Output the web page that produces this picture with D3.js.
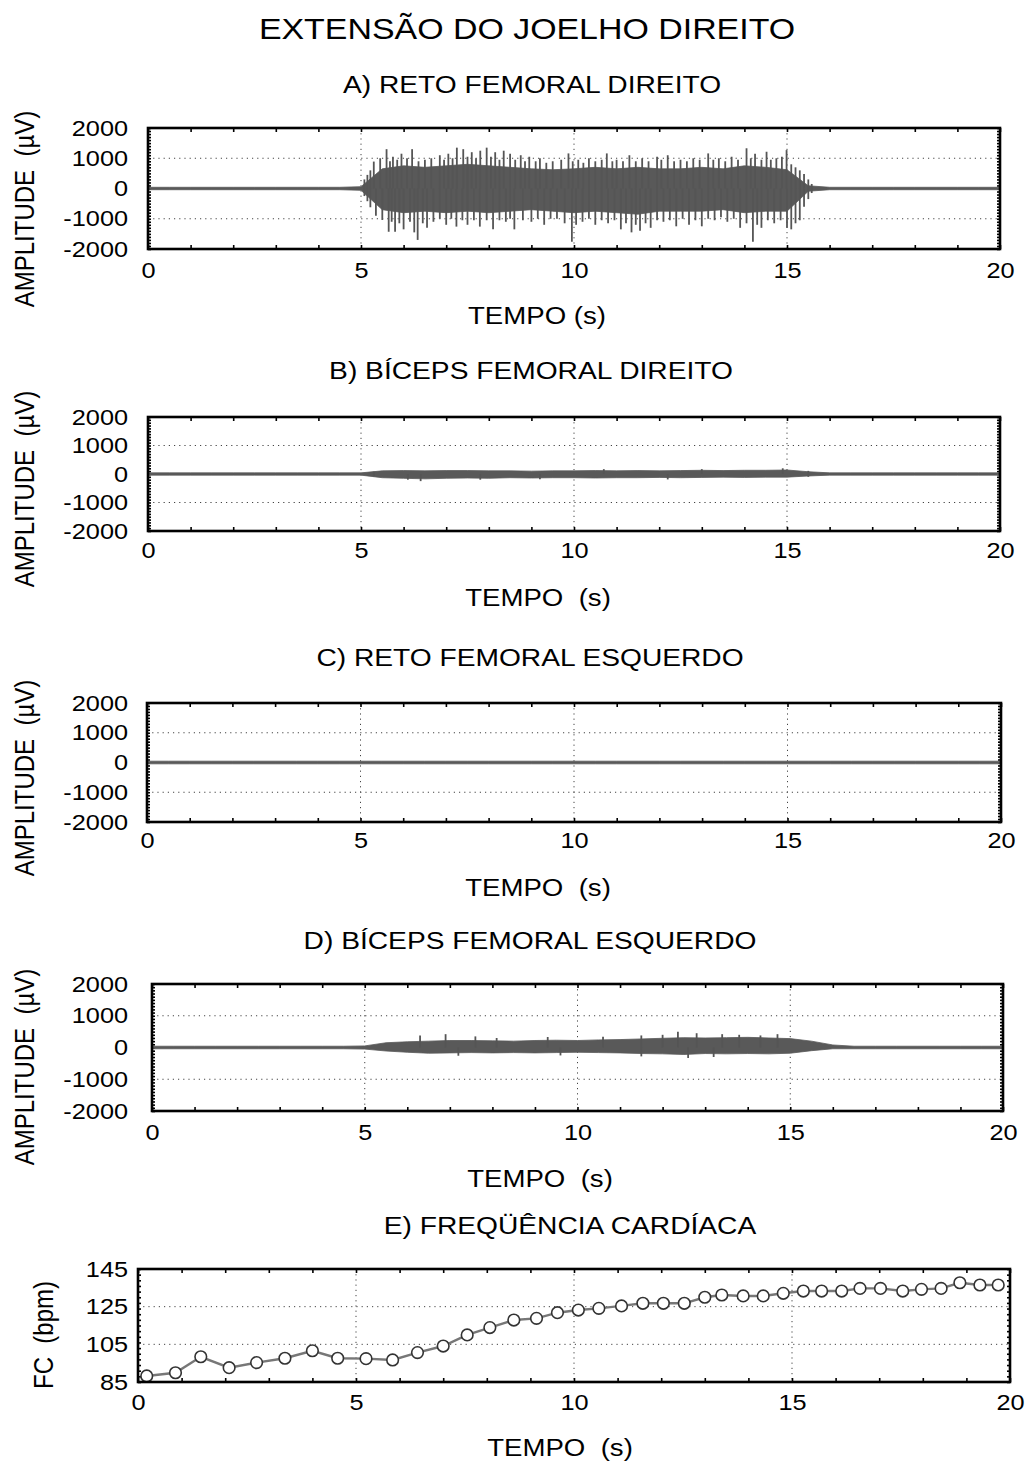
<!DOCTYPE html>
<html>
<head>
<meta charset="utf-8">
<script src="https://cdn.jsdelivr.net/npm/d3@7"></script>
<style>
  body { margin: 0; background: #fff; }
  text { font-family: "Liberation Sans", Arial, sans-serif; fill: #000; white-space: pre; }
</style>
</head>
<body>
<svg id="chart" width="1027" height="1462"></svg>
<script>

// Data
const timeTicks = [0, 5, 10, 15, 20];
const ampTicks = [2000, 1000, 0, -1000, -2000];
const fcTicks = [85, 105, 125, 145];

// envelope of the EMG band, read every 0.5 s
const coreTime = [0, 0.5, 1, 1.5, 2, 2.5, 3, 3.5, 4, 4.5, 5, 5.5, 6, 6.5, 7, 7.5, 8, 8.5, 9, 9.5,
  10, 10.5, 11, 11.5, 12, 12.5, 13, 13.5, 14, 14.5, 15, 15.5, 16, 16.5, 17, 17.5, 18, 18.5, 19, 19.5, 20];

const coreHiA = [40, 40, 40, 40, 40, 40, 40, 40, 40, 40, 60, 650, 750, 700, 750, 800, 750, 700, 650, 620,
  650, 700, 650, 700, 650, 650, 700, 650, 750, 700, 620, 90, 40, 40, 40, 40, 40, 40, 40, 40, 40];
const coreLoA = [-40, -40, -40, -40, -40, -40, -40, -40, -40, -40, -60, -700, -800, -750, -800, -750, -800, -750, -700, -750,
  -800, -750, -800, -850, -750, -750, -750, -700, -800, -750, -750, -90, -40, -40, -40, -40, -40, -40, -40, -40, -40];

const coreHiB = [40, 40, 40, 40, 40, 40, 40, 40, 40, 40, 40, 110, 120, 110, 120, 120, 110, 110, 100, 110,
  110, 120, 110, 120, 110, 120, 130, 120, 130, 130, 140, 80, 40, 40, 40, 40, 40, 40, 40, 40, 40];
const coreLoB = [-40, -40, -40, -40, -40, -40, -40, -40, -40, -40, -40, -130, -150, -170, -150, -140, -150, -130, -140, -130,
  -130, -140, -130, -130, -120, -130, -120, -110, -120, -110, -110, -70, -40, -40, -40, -40, -40, -40, -40, -40, -40];

const coreHiC = [45, 45, 45, 45, 45, 45, 45, 45, 45, 45, 45, 45, 45, 45, 45, 45, 45, 45, 45, 45,
  45, 45, 45, 45, 45, 45, 45, 45, 45, 45, 45, 45, 45, 45, 45, 45, 45, 45, 45, 45, 45];
const coreLoC = [-45, -45, -45, -45, -45, -45, -45, -45, -45, -45, -45, -45, -45, -45, -45, -45, -45, -45, -45, -45,
  -45, -45, -45, -45, -45, -45, -45, -45, -45, -45, -45, -45, -45, -45, -45, -45, -45, -45, -45, -45, -45];

const coreHiD = [40, 40, 40, 40, 40, 40, 40, 40, 40, 40, 50, 150, 180, 200, 220, 220, 210, 200, 220, 230,
  220, 240, 250, 270, 290, 310, 300, 310, 320, 300, 280, 200, 80, 40, 40, 40, 40, 40, 40, 40, 40];
const coreLoD = [-40, -40, -40, -40, -40, -40, -40, -40, -40, -40, -50, -110, -150, -180, -170, -160, -170, -160, -170, -160,
  -150, -160, -170, -190, -200, -220, -190, -200, -190, -200, -180, -100, -40, -40, -40, -40, -40, -40, -40, -40, -40];

// single peaks that stick out of the band: [time s, amplitude µV]
const spikesA = [
  [5.08, 300], [5.15, 450], [5.22, 600], [5.3, 890], [5.45, 1000], [5.6, 1300], [5.68, 900], [5.75, 1050], [5.85, 950],
  [5.95, 1150], [6.08, 1000], [6.2, 1300], [6.35, 900], [6.5, 950], [6.65, 1000], [6.85, 1100], [6.95, 950],
  [7.05, 1150], [7.15, 1000], [7.25, 1350], [7.4, 1300], [7.5, 1050], [7.6, 1200], [7.7, 1000], [7.8, 1250],
  [7.95, 1350], [8.05, 1050], [8.15, 1200], [8.25, 950], [8.35, 1250], [8.5, 1150], [8.62, 950], [8.75, 1100],
  [8.85, 900], [8.95, 1050], [9.1, 900], [9.2, 1000], [9.35, 850], [9.5, 900], [9.7, 950], [9.87, 1160],
  [9.97, 900], [10.1, 950], [10.22, 850], [10.35, 1000], [10.5, 900], [10.65, 950], [10.77, 1160], [10.9, 900],
  [11.0, 950], [11.15, 900], [11.3, 1100], [11.45, 900], [11.6, 1000], [11.75, 900], [11.95, 1050], [12.05, 950],
  [12.2, 1100], [12.35, 900], [12.5, 950], [12.65, 900], [12.8, 1000], [12.95, 950], [13.15, 1160], [13.27, 950],
  [13.4, 1000], [13.55, 900], [13.7, 1050], [13.85, 950], [14.05, 1330], [14.15, 1000], [14.25, 1150], [14.4, 950],
  [14.52, 1215], [14.62, 950], [14.75, 1000], [14.88, 1050], [14.99, 1270], [15.1, 800], [15.2, 700], [15.3, 600],
  [15.4, 480], [15.5, 300], [15.58, 150],
  [5.08, -250], [5.15, -420], [5.22, -620], [5.35, -900], [5.5, -1040], [5.65, -1430], [5.72, -1100], [5.8, -1430],
  [5.9, -1150], [6.0, -1350], [6.15, -1100], [6.25, -1450], [6.33, -1700], [6.45, -1150], [6.55, -1300], [6.7, -1100],
  [6.85, -1000], [7.0, -1200], [7.12, -1000], [7.24, -1260], [7.38, -1050], [7.5, -1200], [7.65, -1050], [7.79, -1260],
  [7.95, -1050], [8.1, -1350], [8.25, -1050], [8.4, -1100], [8.5, -1000], [8.6, -1350], [8.8, -1050], [9.0, -1100],
  [9.15, -1000], [9.3, -1200], [9.45, -1000], [9.6, -1000], [9.78, -1150], [9.95, -1760], [10.05, -1200], [10.2, -1100],
  [10.35, -1000], [10.5, -1200], [10.65, -1050], [10.8, -1150], [10.95, -1050], [11.1, -1350], [11.22, -1150],
  [11.35, -1450], [11.45, -1200], [11.55, -1400], [11.68, -1150], [11.8, -1300], [11.95, -1050], [12.1, -1100],
  [12.25, -1050], [12.4, -1250], [12.55, -1000], [12.7, -1200], [12.85, -1050], [13.0, -1250], [13.15, -1000],
  [13.3, -1050], [13.45, -950], [13.6, -1100], [13.75, -1000], [13.9, -1300], [14.05, -1150], [14.2, -1760],
  [14.3, -1200], [14.4, -1300], [14.55, -1050], [14.7, -1150], [14.85, -1050], [15.0, -1300], [15.1, -1350],
  [15.2, -1150], [15.3, -1050], [15.4, -600], [15.5, -350], [15.58, -150]
];
const spikesB = [[5.3, 80], [5.3, -90], [6.1, -200], [6.4, -250], [7.8, -200], [9.2, -180], [10.7, 170], [12.2, -190],
  [13.0, 170], [14.9, 200], [15.5, 110], [15.5, -100]];
const spikesC = [];
const spikesD = [
  [6.3, 380], [6.9, 420], [7.6, 350], [8.1, 300], [9.3, 330], [10.6, 340], [11.5, 380], [12.0, 400], [12.36, 500],
  [12.8, 450], [13.4, 420], [13.8, 400], [14.3, 380], [14.7, 420],
  [7.2, -260], [9.6, -250], [11.5, -280], [12.6, -330], [13.2, -300]
];

// heart rate
const fcTime = [0.2, 0.86, 1.44, 2.09, 2.72, 3.37, 4.0, 4.58, 5.23, 5.84, 6.41, 7.0, 7.55, 8.07, 8.62, 9.14, 9.62,
  10.1, 10.57, 11.09, 11.58, 12.05, 12.53, 13.0, 13.39, 13.88, 14.34, 14.8, 15.26, 15.68, 16.14, 16.56, 17.03,
  17.54, 17.97, 18.42, 18.85, 19.31, 19.73];
const fcBpm = [88.2, 89.9, 98.4, 92.6, 95.3, 97.6, 101.6, 97.6, 97.4, 96.7, 100.6, 104.1, 110, 113.9, 117.9, 118.8, 121.8,
  123.2, 124.1, 125.4, 126.8, 126.8, 126.8, 130, 131.2, 130.7, 130.7, 132.1, 133.3, 133.3, 133.3, 134.7, 134.7,
  133.3, 134.2, 134.7, 137.7, 136.5, 136.5];

// the scan is a little wider than tall, so text is stretched sideways
const SX = 1.15;
const svg = d3.select("#chart");

function label(x, y, s, size, rot) {
  svg.append("text")
    .attr("transform", `translate(${x},${y}) scale(${SX},1) rotate(${rot || 0})`)
    .attr("text-anchor", "middle")
    .style("font-size", size + "px")
    .text(s);
}

label(527, 39, "EXTENSÃO DO JOELHO DIREITO", 29.5);

const panels = [
  { title: "A) RETO FEMORAL DIREITO", tx: 532, ty: 93, L: 148, R: 1000, T: 128, B: 249, xPad: 13,
    hi: coreHiA, lo: coreLoA, spikes: spikesA, xlab: "TEMPO (s)", xlx: 537, xly: 324, ylx: 34, yly: 209 },
  { title: "B) BÍCEPS FEMORAL DIREITO", tx: 531, ty: 379, L: 148, R: 1000, T: 417, B: 531, xPad: 11,
    hi: coreHiB, lo: coreLoB, spikes: spikesB, xlab: "TEMPO  (s)", xlx: 538, xly: 606, ylx: 34, yly: 489 },
  { title: "C) RETO FEMORAL ESQUERDO", tx: 530, ty: 666, L: 147, R: 1001, T: 703, B: 822, xPad: 10,
    hi: coreHiC, lo: coreLoC, spikes: spikesC, xlab: "TEMPO  (s)", xlx: 538, xly: 896, ylx: 34, yly: 778 },
  { title: "D) BÍCEPS FEMORAL ESQUERDO", tx: 530, ty: 949, L: 152, R: 1003, T: 984, B: 1111, xPad: 13,
    hi: coreHiD, lo: coreLoD, spikes: spikesD, xlab: "TEMPO  (s)", xlx: 540, xly: 1187, ylx: 34, yly: 1067 }
];

function frame(p, x, y, yTicks, gridY, minorY, yPad) {
  const g = svg.append("g");

  // dotted grid
  g.selectAll(".gx").data(timeTicks.slice(1, -1)).join("line")
    .attr("x1", d => x(d)).attr("x2", d => x(d)).attr("y1", p.T).attr("y2", p.B)
    .attr("stroke", "#444").attr("stroke-width", 1).attr("stroke-dasharray", "1.2,4");
  g.selectAll(".gy").data(gridY).join("line")
    .attr("x1", p.L).attr("x2", p.R).attr("y1", d => y(d)).attr("y2", d => y(d))
    .attr("stroke", "#444").attr("stroke-width", 1).attr("stroke-dasharray", "1.2,4");

  // inward minor ticks on all four sides
  const minorX = d3.range(0, 20.01, 1);
  g.append("g").attr("transform", `translate(0,${p.B})`)
    .call(d3.axisBottom(x).tickValues(minorX).tickSize(-4).tickFormat(""))
    .call(a => a.select(".domain").remove());
  g.append("g").attr("transform", `translate(0,${p.T})`)
    .call(d3.axisTop(x).tickValues(minorX).tickSize(-4).tickFormat(""))
    .call(a => a.select(".domain").remove());
  g.append("g").attr("transform", `translate(${p.L},0)`)
    .call(d3.axisLeft(y).tickValues(minorY).tickSize(-3).tickFormat(""))
    .call(a => a.select(".domain").remove());
  g.append("g").attr("transform", `translate(${p.R},0)`)
    .call(d3.axisRight(y).tickValues(minorY).tickSize(-3).tickFormat(""))
    .call(a => a.select(".domain").remove());
  g.selectAll(".tick line").attr("stroke", "#000").attr("stroke-width", 1.6);

  // labels
  g.append("g").attr("transform", `translate(0,${p.B})`)
    .call(d3.axisBottom(x).tickValues(timeTicks).tickSize(0).tickPadding(p.xPad).tickFormat(d => String(d)))
    .call(a => a.select(".domain").remove())
    .selectAll("text").attr("transform", `scale(${SX},1)`).style("font-size", "22px")
    .attr("font-family", null);
  g.append("g").attr("transform", `translate(${p.L},0)`)
    .call(d3.axisLeft(y).tickValues(yTicks).tickSize(0).tickPadding(yPad).tickFormat(d => String(d)))
    .call(a => a.select(".domain").remove())
    .selectAll("text").attr("transform", `scale(${SX},1)`).style("font-size", "22px")
    .attr("font-family", null);

  return g;
}

function border(p) {
  svg.append("rect").attr("x", p.L).attr("y", p.T).attr("width", p.R - p.L).attr("height", p.B - p.T)
    .attr("fill", "none").attr("stroke", "#000").attr("stroke-width", 2.6);
}

panels.forEach(p => {
  const x = d3.scaleLinear().domain([0, 20]).range([p.L, p.R]);
  const y = d3.scaleLinear().domain([-2000, 2000]).range([p.B, p.T]);

  frame(p, x, y, ampTicks, [1000, -1000], d3.range(-2000, 2000.1, 100), (p.L - 128) / SX);

  const band = coreTime.map((t, i) => ({ t: t, hi: p.hi[i], lo: p.lo[i] }));
  svg.append("path").datum(band)
    .attr("fill", "#595959").attr("stroke", "#595959").attr("stroke-width", 0.8)
    .attr("d", d3.area().x(d => x(d.t)).y0(d => y(d.lo)).y1(d => y(d.hi)));

  svg.append("g").selectAll("line").data(p.spikes).join("line")
    .attr("x1", d => x(d[0])).attr("x2", d => x(d[0]))
    .attr("y1", y(0)).attr("y2", d => y(d[1]))
    .attr("stroke", "#555").attr("stroke-width", 1.8);

  border(p);

  label(p.tx, p.ty, p.title, 24.5);
  label(p.xlx, p.xly, p.xlab, 24);
  label(p.ylx, p.yly, "AMPLITUDE  (µV)", 24, -90);
});

// E) heart rate
const pe = { L: 138, R: 1010, T: 1269, B: 1382, xPad: 12 };
const xE = d3.scaleLinear().domain([0, 20]).range([pe.L, pe.R]);
const yE = d3.scaleLinear().domain([85, 145]).range([pe.B, pe.T]);

frame(pe, xE, yE, fcTicks, [105, 125], d3.range(85, 145.1, 3), 10 / SX);

svg.append("path").datum(fcTime)
  .attr("fill", "none").attr("stroke", "#777").attr("stroke-width", 2.4)
  .attr("d", d3.line().x(d => xE(d)).y((d, i) => yE(fcBpm[i])));

svg.append("g").selectAll("circle").data(fcTime).join("circle")
  .attr("cx", d => xE(d)).attr("cy", (d, i) => yE(fcBpm[i])).attr("r", 5.8)
  .attr("fill", "#fff").attr("stroke", "#333").attr("stroke-width", 1.6);

border(pe);

label(570, 1234, "E) FREQÜÊNCIA CARDÍACA", 24.5);
label(560, 1456, "TEMPO  (s)", 24);
label(53, 1335, "FC  (bpm)", 24, -90);

</script>
</body>
</html>
